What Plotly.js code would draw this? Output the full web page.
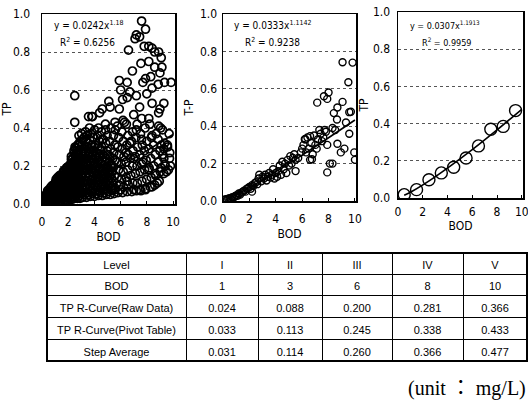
<!DOCTYPE html>
<html><head><meta charset="utf-8">
<script src="https://cdn.plot.ly/plotly-3.0.1.min.js"></script>
<style>html,body{margin:0;padding:0;background:#fff}</style>
</head><body><div id="chart" style="width:528px;height:401px"></div>
<script>
// ---------- table data ----------
const levels = ['I', 'II', 'III', 'IV', 'V'];
const bodLevels = [1, 3, 6, 8, 10];
const tpRaw = [0.024, 0.088, 0.200, 0.281, 0.366];
const tpPivot = [0.033, 0.113, 0.245, 0.338, 0.433];
const stepAvg = [0.031, 0.114, 0.260, 0.366, 0.477];
const rowLabels = ['BOD', 'TP R-Curve(Raw Data)', 'TP R-Curve(Pivot Table)', 'Step Average'];

// curve start points (near the origin)
const curveStartX = [0.3, 0.2, 0.5];
const curveStartY = [0.006, 0.005, 0.015];

// ---------- panel 1: raw data (BOD vs TP) ----------
const p1x = [
 0.1,0.16,0.05,
 0.3,0.36,0.25,0.33,
 0.5,0.56,0.45,0.53,0.43,
 0.7,0.76,0.65,0.73,0.63,
 0.9,0.96,0.85,0.93,0.83,0.98,
 1.1,1.16,1.05,1.13,1.03,1.18,1.08,
 1.3,1.36,1.25,1.33,1.23,1.38,1.28,1.35,
 1.5,1.56,1.45,1.53,1.43,1.58,1.48,1.55,
 1.7,1.76,1.65,1.73,1.63,1.78,1.68,1.75,1.66,
 1.9,1.96,1.85,1.93,1.83,1.98,1.88,1.95,1.86,
 2.1,2.16,2.05,2.13,2.03,2.18,2.08,2.15,2.06,2.17,
 2.3,2.36,2.25,2.33,2.23,2.38,2.28,2.35,2.26,2.37,2.24,
 2.5,2.56,2.45,2.53,2.43,2.58,2.48,2.55,2.46,2.57,2.44,2.52,
 2.7,2.76,2.65,2.73,2.63,2.78,2.68,2.75,2.66,2.77,2.64,2.72,
 2.9,2.96,2.85,2.93,2.83,2.98,2.88,2.95,2.86,2.97,2.84,2.92,2.82,
 3.1,3.16,3.05,3.13,3.03,3.18,3.08,3.15,3.06,3.17,3.04,3.12,3.02,
 3.4,3.46,3.35,3.43,3.33,3.48,3.38,3.45,3.36,3.47,3.34,3.42,3.32,
 3.7,3.76,3.65,3.73,3.63,3.78,3.68,3.75,3.66,3.77,3.64,3.72,3.62,
 4.0,4.06,3.95,4.03,3.93,4.08,3.98,4.05,3.96,4.07,3.94,4.02,
 4.3,4.36,4.25,4.33,4.23,4.38,4.28,4.35,4.26,4.37,4.24,4.32,
 4.6,4.66,4.55,4.63,4.53,4.68,4.58,4.65,4.56,4.67,4.54,
 4.9,4.96,4.85,4.93,4.83,4.98,4.88,4.95,4.86,4.97,4.84,
 5.2,5.26,5.15,5.23,5.13,5.28,5.18,5.25,5.16,5.27,
 5.5,5.56,5.45,5.53,5.43,5.58,5.48,5.55,5.46,5.57,
 5.8,5.88,5.74,5.85,5.72,5.9,5.78,5.86,5.75,
 6.15,6.23,6.08,6.2,6.06,6.25,6.12,6.21,6.09,6.18,
 6.5,6.58,6.43,6.55,6.41,6.6,6.47,6.56,6.44,
 6.85,6.93,6.78,6.9,6.76,6.95,6.82,6.91,
 7.2,7.28,7.13,7.25,7.11,7.3,7.17,7.26,
 7.55,7.63,7.48,7.6,7.46,7.65,7.52,7.61,
 7.9,7.98,7.83,7.95,7.81,8.0,7.87,
 8.25,8.33,8.18,8.3,8.16,8.35,8.22,
 8.6,8.68,8.53,8.65,8.51,8.7,
 8.95,9.03,8.88,9.0,8.86,9.05,
 9.3,9.38,9.23,9.35,
 9.65,9.73,9.58,9.7,
 7.6,7.2,7.9,7.1,7.45,7.8,8.15,8.4,8.6,8.9,
 9.1,9.15,8.15,7.55,6.9,6.6,9.35,7.9,8.3,7.7,
 8.0,7.2,6.5,5.9,6.0,6.5,5.9,5.1,5.2,4.4,
 3.8,3.55,2.5,2.5,8.4,8.9,9.0,7.45,7.0,8.15,
 8.9,9.2,9.3,8.4,9.1,9.3,9.4,9.1,9.5,9.3,
 7.6,7.2,6.7,6.3,5.6,4.85,4.6,6.4,7.0,7.7,
 8.15,8.6,8.8,6.5,6.0,5.55,7.0,7.45,7.9,8.4,
 8.87,8.4,8.6,9.0,9.75,9.8,3.85,4.6,6.15,6.7,
 9.57,9.85,
 0.2,0.25,0.17,
 0.4,0.45,0.37,0.42,
 0.6,0.65,0.57,0.62,
 0.8,0.85,0.77,0.82,0.75,
 1.0,1.05,0.97,1.02,0.95,1.06,
 1.2,1.25,1.17,1.22,1.15,1.26,1.19,
 1.4,1.45,1.37,1.42,1.35,1.46,1.39,
 1.6,1.65,1.57,1.62,1.55,1.66,1.59,1.63,
 1.8,1.85,1.77,1.82,1.75,1.86,1.79,1.83,
 2.0,2.05,1.97,2.02,1.95,2.06,1.99,2.03,1.96,
 2.2,2.25,2.17,2.22,2.15,2.26,2.19,2.23,2.16,2.24,
 2.4,2.45,2.37,2.42,2.35,2.46,2.39,2.43,2.36,2.44,
 2.6,2.65,2.57,2.62,2.55,2.66,2.59,2.63,2.56,2.64,2.58,
 2.8,2.85,2.77,2.82,2.75,2.86,2.79,2.83,2.76,2.84,2.78,
 3.25,3.3,3.21,3.27,3.2,3.31,3.24,3.28,3.22,
 3.55,3.6,3.51,3.57,3.5,3.61,3.54,3.58,3.52,
 3.85,3.9,3.81,3.87,3.8,3.91,3.84,3.88,3.82,3.89,
 4.15,4.2,4.11,4.17,4.1,4.21,4.14,4.18,
 4.45,4.5,4.41,4.47,4.4,4.51,4.44,4.48,
 4.75,4.8,4.71,4.77,4.7,4.81,4.74,
 5.05,5.1,5.01,5.07,5.0,5.11,5.04,
 5.35,5.4,5.31,5.37,5.3,5.41
];
const p1y = [
 0.005,0.015,0.025,
 0.005,0.02,0.035,0.05,
 0.01,0.025,0.04,0.055,0.07,
 0.01,0.03,0.05,0.07,0.085,
 0.012,0.03,0.05,0.07,0.09,0.105,
 0.015,0.035,0.055,0.075,0.095,0.115,0.13,
 0.015,0.035,0.055,0.075,0.095,0.115,0.135,0.15,
 0.02,0.04,0.06,0.08,0.1,0.12,0.14,0.16,
 0.02,0.04,0.06,0.08,0.1,0.12,0.14,0.16,0.175,
 0.02,0.045,0.07,0.09,0.11,0.13,0.15,0.17,0.19,
 0.025,0.045,0.065,0.085,0.105,0.125,0.145,0.165,0.185,0.205,
 0.025,0.05,0.075,0.1,0.12,0.14,0.16,0.18,0.2,0.22,0.25,
 0.03,0.05,0.075,0.1,0.125,0.15,0.175,0.2,0.225,0.25,0.28,0.3,
 0.03,0.055,0.08,0.105,0.13,0.155,0.18,0.205,0.23,0.255,0.28,0.31,
 0.03,0.055,0.08,0.105,0.13,0.155,0.18,0.21,0.24,0.27,0.3,0.33,0.36,
 0.035,0.06,0.085,0.11,0.14,0.165,0.19,0.22,0.25,0.28,0.31,0.34,0.37,
 0.035,0.06,0.09,0.12,0.15,0.18,0.21,0.24,0.27,0.3,0.33,0.36,0.38,
 0.04,0.065,0.095,0.125,0.155,0.185,0.215,0.245,0.275,0.31,0.34,0.37,0.4,
 0.04,0.07,0.1,0.13,0.16,0.19,0.22,0.25,0.28,0.31,0.35,0.39,
 0.045,0.07,0.1,0.13,0.16,0.19,0.22,0.26,0.3,0.33,0.36,0.4,
 0.045,0.075,0.105,0.135,0.17,0.2,0.23,0.26,0.3,0.34,0.38,
 0.05,0.08,0.11,0.14,0.17,0.2,0.24,0.28,0.32,0.36,0.42,
 0.05,0.08,0.11,0.15,0.18,0.21,0.25,0.29,0.33,0.4,
 0.055,0.085,0.12,0.15,0.19,0.23,0.27,0.31,0.36,0.43,
 0.06,0.1,0.14,0.18,0.22,0.26,0.3,0.35,0.41,
 0.06,0.09,0.13,0.17,0.21,0.25,0.29,0.33,0.38,0.44,
 0.065,0.1,0.14,0.18,0.22,0.26,0.31,0.36,0.42,
 0.065,0.11,0.15,0.2,0.24,0.28,0.33,0.38,
 0.07,0.11,0.16,0.2,0.25,0.3,0.35,0.42,
 0.07,0.12,0.17,0.21,0.26,0.31,0.37,0.45,
 0.08,0.13,0.18,0.23,0.28,0.33,0.4,
 0.09,0.14,0.19,0.24,0.29,0.35,0.42,
 0.1,0.15,0.2,0.26,0.31,0.37,
 0.12,0.17,0.22,0.28,0.34,0.4,
 0.16,0.21,0.26,0.32,
 0.18,0.24,0.3,0.37,
 0.963,0.89,0.92,0.87,0.88,0.83,0.83,0.82,0.8,0.8,
 0.77,0.72,0.75,0.74,0.7,0.81,0.64,0.66,0.67,0.64,
 0.58,0.57,0.64,0.65,0.6,0.56,0.5,0.54,0.51,0.48,
 0.46,0.46,0.57,0.43,0.53,0.48,0.5,0.51,0.47,0.45,
 0.41,0.39,0.53,0.36,0.31,0.24,0.2,0.19,0.17,0.29,
 0.34,0.39,0.32,0.43,0.39,0.39,0.34,0.27,0.24,0.22,
 0.18,0.16,0.11,0.12,0.075,0.075,0.075,0.075,0.075,0.09,
 0.63,0.61,0.72,0.69,0.27,0.2,0.46,0.5,0.55,0.59,
 0.31,0.64,
 0.012,0.028,0.042,
 0.012,0.028,0.045,0.06,
 0.018,0.035,0.052,0.068,
 0.02,0.04,0.06,0.08,0.095,
 0.025,0.045,0.065,0.085,0.105,0.12,
 0.025,0.045,0.065,0.085,0.105,0.125,0.14,
 0.03,0.05,0.07,0.09,0.11,0.13,0.15,
 0.03,0.05,0.07,0.09,0.11,0.13,0.15,0.168,
 0.032,0.055,0.08,0.1,0.12,0.14,0.16,0.18,
 0.035,0.055,0.075,0.095,0.115,0.135,0.155,0.175,0.195,
 0.035,0.06,0.085,0.11,0.13,0.15,0.17,0.19,0.21,0.235,
 0.04,0.062,0.088,0.112,0.138,0.162,0.188,0.212,0.238,0.265,
 0.042,0.068,0.092,0.118,0.142,0.168,0.192,0.218,0.242,0.268,0.295,
 0.042,0.068,0.092,0.118,0.142,0.168,0.195,0.225,0.255,0.285,0.315,
 0.05,0.1,0.125,0.175,0.205,0.235,0.265,0.3,0.35,
 0.05,0.075,0.105,0.165,0.2,0.23,0.26,0.29,0.32,
 0.055,0.08,0.11,0.14,0.17,0.2,0.23,0.26,0.3,0.35,
 0.055,0.085,0.115,0.145,0.175,0.205,0.24,0.27,
 0.06,0.09,0.12,0.15,0.18,0.21,0.25,0.28,
 0.06,0.09,0.12,0.155,0.185,0.22,0.25,
 0.065,0.095,0.125,0.16,0.19,0.22,0.26,
 0.07,0.1,0.135,0.17,0.2,0.24
];

// ---------- panel 2: pivot table (BOD vs T-P) ----------
const p2x = [
 0.1,0.2,0.3,0.4,0.5,0.6,0.7,0.8,0.9,1.0,
 1.1,1.2,1.3,1.4,1.5,1.6,1.7,1.8,1.9,2.0,
 2.1,2.2,2.2,2.3,2.4,2.5,2.6,2.7,2.75,2.9,
 3.0,3.1,3.2,3.3,3.4,3.5,3.6,3.7,3.8,3.9,
 4.0,4.1,4.2,4.3,4.4,4.5,4.6,4.7,4.8,4.9,
 5.0,5.1,5.2,5.3,5.4,5.5,5.5,5.7,5.9,6.0,
 6.1,6.2,6.3,6.4,6.5,6.6,6.7,6.8,6.9,7.0,
 7.1,7.2,7.3,7.4,7.5,7.6,7.7,7.8,7.9,8.1,
 8.3,8.5,
 7.9,8.3,8.67,8.93,9.2,9.57,9.95,10.0,9.69,9.06,
 9.5,9.06,9.82,7.14,7.65,8.0,7.9,8.67,8.4,6.74,
 6.24,6.6,9.32,8.64,9.57
];
const p2y = [
 0.005,0.01,0.008,0.012,0.015,0.01,0.02,0.018,0.025,0.03,
 0.028,0.04,0.035,0.045,0.05,0.055,0.05,0.065,0.07,0.075,
 0.065,0.085,0.05,0.08,0.095,0.1,0.09,0.12,0.14,0.105,
 0.13,0.12,0.14,0.11,0.13,0.15,0.125,0.14,0.17,0.12,
 0.15,0.13,0.16,0.19,0.14,0.21,0.17,0.2,0.15,0.22,
 0.19,0.24,0.2,0.23,0.25,0.16,0.22,0.23,0.26,0.28,
 0.3,0.33,0.26,0.34,0.28,0.22,0.31,0.25,0.35,0.3,
 0.28,0.33,0.38,0.36,0.32,0.34,0.38,0.37,0.3,0.2,
 0.39,0.38,
 0.153,0.2,0.306,0.26,0.28,0.36,0.26,0.22,0.477,0.53,
 0.635,0.742,0.74,0.526,0.56,0.58,0.546,0.5,0.47,0.223,
 0.33,0.347,0.42,0.436,0.475
];

// ---------- panel 3: step averages ----------
const p3x = [0.5, 1.5, 2.5, 3.5, 4.5, 5.5, 6.5, 7.5, 8.5, 9.5];
const p3y = [0.018, 0.045, 0.098, 0.135, 0.165, 0.215, 0.28, 0.37, 0.385, 0.47];

// ---------- fit labels ----------
const eqText = ['y = 0.0242x<sup>1.18</sup>', 'y = 0.0333x<sup>1.1142</sup>', 'y = 0.0307x<sup>1.1913</sup>'];
const r2Text = ['R<sup>2</sup> = 0.6256', 'R<sup>2</sup> = 0.9238', 'R<sup>2</sup> = 0.9959'];
const yTitles = ['TP', 'T-P', 'TP'];

if (p1x.length !== p1y.length) throw new Error('p1 mismatch ' + p1x.length + ' ' + p1y.length);
if (p2x.length !== p2y.length) throw new Error('p2 mismatch ' + p2x.length + ' ' + p2y.length);

const FONT = '"Liberation Sans Narrow", "DejaVu Sans Condensed", "Liberation Sans", Arial, sans-serif';
const TFONT = '"Liberation Sans", Arial, sans-serif';
const W = 528, H = 401;
const px = v => v / W;
const py = v => 1 - v / H;

function pts(x, y, xa, ya, size, lw) {
  return {type: 'scatter', mode: 'markers', x: x, y: y, xaxis: xa, yaxis: ya,
    marker: {symbol: 'circle-open', size: size, color: '#000', line: {width: lw, color: '#000'}},
    hoverinfo: 'skip'};
}
function curve(x, y, xa, ya) {
  return {type: 'scatter', mode: 'lines', x: x, y: y, xaxis: xa, yaxis: ya,
    line: {color: '#000', width: 1.6, shape: 'spline', smoothing: 0.6}, hoverinfo: 'skip'};
}

const traces = [
  pts(p1x, p1y, 'x', 'y', 8, 1.7),
  curve([curveStartX[0]].concat(bodLevels), [curveStartY[0]].concat(tpRaw), 'x', 'y'),
  pts(p2x, p2y, 'x2', 'y2', 7, 1.4),
  curve([curveStartX[1]].concat(bodLevels), [curveStartY[1]].concat(tpPivot), 'x2', 'y2'),
  curve([curveStartX[2]].concat(bodLevels), [curveStartY[2]].concat(stepAvg), 'x3', 'y3'),
  pts(p3x, p3y, 'x3', 'y3', 12, 1.4),
  {
    type: 'table',
    domain: {x: [px(47), px(527)], y: [py(395), py(253)]},
    columnwidth: [139, 72, 64, 70, 71, 64],
    header: {
      values: ['Level'].concat(levels),
      align: 'center', height: 21,
      line: {color: '#000', width: 1}, fill: {color: '#fff'},
      font: {family: TFONT, size: 11, color: '#000'}
    },
    cells: {
      values: [rowLabels].concat(levels.map((_, i) => [
        String(bodLevels[i]), tpRaw[i].toFixed(3), tpPivot[i].toFixed(3), stepAvg[i].toFixed(3)])),
      align: 'center', height: 21.75,
      line: {color: '#000', width: 1}, fill: {color: '#fff'},
      font: {family: TFONT, size: 11, color: '#000'}
    }
  }
];

const tickFont = {family: FONT, size: 12, color: '#000'};
function xAxis(d0, d1, r1, anchor, standoff, lblStand) {
  return {domain: [px(d0), px(d1)], range: [0, r1], anchor: anchor, dtick: 2, tick0: 0,
    showline: true, mirror: true, linecolor: '#000', linewidth: 1.5,
    ticks: 'inside', ticklen: 3, tickcolor: '#000', tickwidth: 1,
    showgrid: false, zeroline: false, tickfont: tickFont, ticklabelstandoff: lblStand,
    ticklabeloverflow: 'allow',
    title: {text: 'BOD', font: {family: FONT, size: 12, color: '#000'}, standoff: standoff}, fixedrange: true};
}
function yAxis(top, bottom, anchor, title, standoff, lblStand) {
  return {domain: [py(bottom), py(top)], range: [0, 1], anchor: anchor, dtick: 0.2, tick0: 0, tickformat: '.1f',
    showline: true, mirror: true, linecolor: '#000', linewidth: 1.5, ticks: '',
    showgrid: true, gridcolor: '#555', gridwidth: 1, griddash: 'dot', zeroline: false,
    tickfont: tickFont, ticklabelstandoff: lblStand, ticklabeloverflow: 'allow',
    title: {text: title, font: {family: FONT, size: 12, color: '#000'}, standoff: standoff}, fixedrange: true};
}

const eqPos = [[52, 58], [232, 243], [408, 420]];
const eqSize = [10, 10, 9];
const annotations = [];
for (let i = 0; i < 3; i++) {
  annotations.push({xref: 'paper', yref: 'paper', x: px(eqPos[i][0]), y: py(25), xanchor: 'left', yanchor: 'middle',
    text: eqText[i], showarrow: false, font: {family: FONT, size: eqSize[i], color: '#000'}});
  annotations.push({xref: 'paper', yref: 'paper', x: px(eqPos[i][1]), y: py(42), xanchor: 'left', yanchor: 'middle',
    text: r2Text[i], showarrow: false, font: {family: FONT, size: eqSize[i], color: '#000'}});
}
annotations.push({xref: 'paper', yref: 'paper', x: 1, y: py(388), xanchor: 'right', yanchor: 'middle',
  text: '(unit ： mg/L)', showarrow: false, font: {family: '"Liberation Serif", "Noto Sans CJK KR", serif', size: 20, color: '#000'}});

const layout = {
  width: W, height: H, margin: {l: 0, r: 0, t: 0, b: 0},
  paper_bgcolor: '#fff', plot_bgcolor: '#fff', showlegend: false,
  xaxis: xAxis(42, 175, 10.15, 'y', 4, 6),
  yaxis: yAxis(14, 204, 'x', yTitles[0], 6, 8),
  xaxis2: xAxis(223, 356, 10.08, 'y2', 4, 6),
  yaxis2: yAxis(14, 201, 'x2', yTitles[1], 3, 2),
  xaxis3: xAxis(398, 523, 10.1, 'y3', 2, 2),
  yaxis3: yAxis(12, 198, 'x3', yTitles[2], 1, 4),
  annotations: annotations,
  shapes: [{type: 'rect', xref: 'paper', yref: 'paper', x0: px(47), x1: px(527), y0: py(361), y1: py(253),
    line: {color: '#000', width: 2}, fillcolor: 'rgba(0,0,0,0)'}]
};

Plotly.newPlot('chart', traces, layout, {staticPlot: true, displayModeBar: false});
</script></body></html>
